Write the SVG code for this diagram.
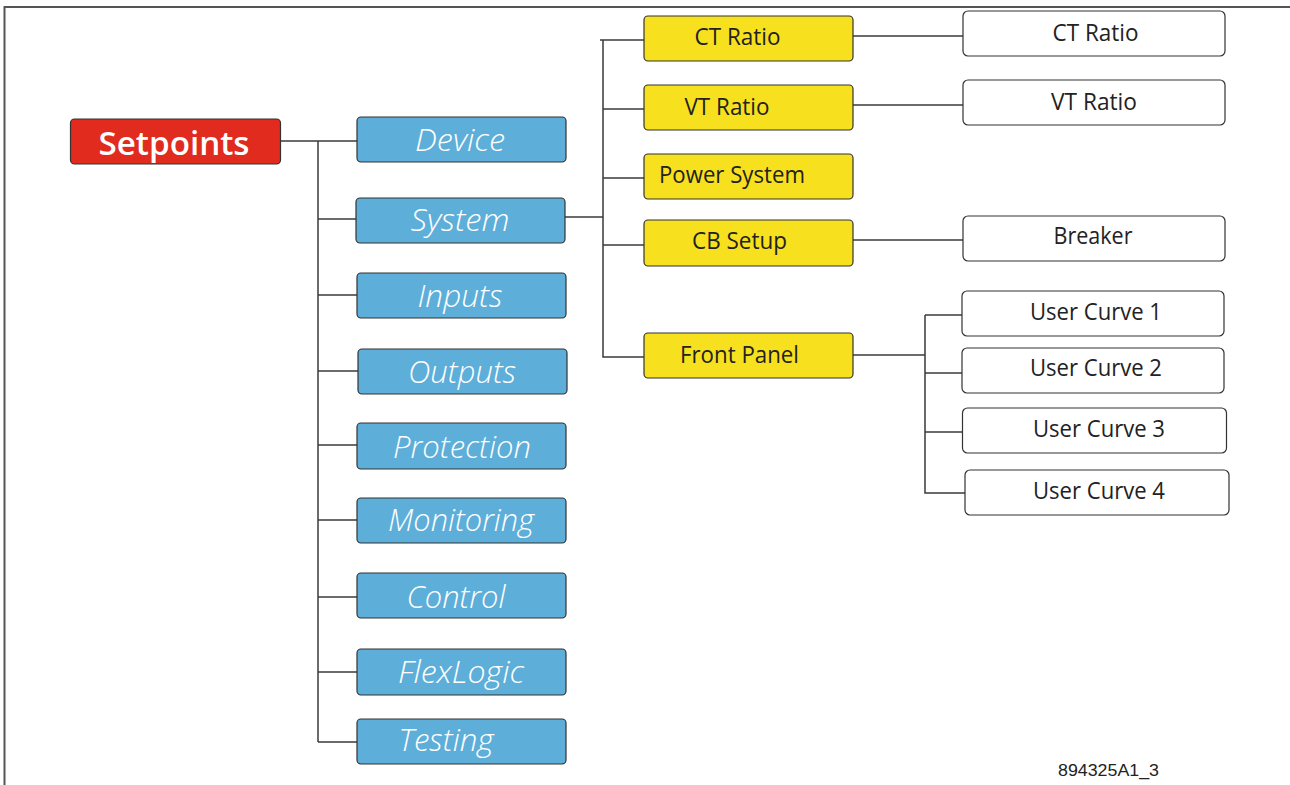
<svg xmlns="http://www.w3.org/2000/svg" width="1290" height="785" viewBox="0 0 1290 785">
<style>
.frame{fill:none;stroke:#555;stroke-width:2}
.con path{fill:none;stroke:#3a3a3a;stroke-width:1.5}
.red{fill:#E02B1E;stroke:#333;stroke-width:1.2}
.blue{fill:#5DAED9;stroke:#333;stroke-width:1.2}
.yel{fill:#F7E11F;stroke:#333;stroke-width:1.2}
.wht{fill:#fff;stroke:#333;stroke-width:1.2}
.tr{font-family:"Open Sans","Liberation Sans",sans-serif;font-weight:600;font-size:33px;fill:#fff}
.tb{font-family:"Open Sans","Liberation Sans",sans-serif;font-style:italic;font-weight:300;font-size:32px;fill:#fff}
.ty{font-family:"Open Sans","Liberation Sans",sans-serif;font-size:23px;fill:#222}
.tw{font-family:"Open Sans","Liberation Sans",sans-serif;font-size:23px;fill:#222}
.tid{font-family:"Liberation Sans",Arial,sans-serif;font-size:16px;fill:#222}
</style>
<path class="frame" d="M4.5,786 V7 H1290"/>
<g class="con">
<path d="M281,141 H357"/>
<path d="M318,141 V742"/>
<path d="M318,219 H356"/>
<path d="M318,295 H357"/>
<path d="M318,371 H358"/>
<path d="M318,445 H357"/>
<path d="M318,520 H357"/>
<path d="M318,597 H357"/>
<path d="M318,672 H357"/>
<path d="M318,742 H357"/>
<path d="M565,217 H603"/>
<path d="M600,40 H644"/>
<path d="M603,40 V357 H644"/>
<path d="M603,109 H644"/>
<path d="M603,178 H644"/>
<path d="M603,245 H644"/>
<path d="M853,36 H963"/>
<path d="M853,105 H963"/>
<path d="M853,240 H963"/>
<path d="M853,355 H925"/>
<path d="M925,315 V493 H965"/>
<path d="M925,315 H962"/>
<path d="M925,373 H962"/>
<path d="M925,432 H962"/>
</g>
<g id="setpoints"><rect class="red" x="70.5" y="119" width="210" height="45" rx="4"/><text class="tr" x="174" y="155" text-anchor="middle" textLength="151" lengthAdjust="spacingAndGlyphs">Setpoints</text></g>
<g id="device"><rect class="blue" x="357" y="117" width="209" height="45" rx="4"/><text class="tb" x="460" y="151" text-anchor="middle" textLength="90" lengthAdjust="spacingAndGlyphs">Device</text></g>
<g id="system"><rect class="blue" x="356" y="198" width="209" height="45" rx="4"/><text class="tb" x="460" y="231" text-anchor="middle" textLength="99" lengthAdjust="spacingAndGlyphs">System</text></g>
<g id="inputs"><rect class="blue" x="357" y="273" width="209" height="45" rx="4"/><text class="tb" x="460" y="307" text-anchor="middle" textLength="85" lengthAdjust="spacingAndGlyphs">Inputs</text></g>
<g id="outputs"><rect class="blue" x="358" y="349" width="209" height="45" rx="4"/><text class="tb" x="462" y="383" text-anchor="middle" textLength="108" lengthAdjust="spacingAndGlyphs">Outputs</text></g>
<g id="protection"><rect class="blue" x="357" y="423" width="209" height="46" rx="4"/><text class="tb" x="462" y="458" text-anchor="middle" textLength="138" lengthAdjust="spacingAndGlyphs">Protection</text></g>
<g id="monitoring"><rect class="blue" x="357" y="498" width="209" height="45" rx="4"/><text class="tb" x="461" y="531" text-anchor="middle" textLength="146" lengthAdjust="spacingAndGlyphs">Monitoring</text></g>
<g id="control"><rect class="blue" x="357" y="573" width="209" height="45" rx="4"/><text class="tb" x="456" y="608" text-anchor="middle" textLength="99" lengthAdjust="spacingAndGlyphs">Control</text></g>
<g id="flexlogic"><rect class="blue" x="357" y="649" width="209" height="46" rx="4"/><text class="tb" x="461" y="683" text-anchor="middle" textLength="126" lengthAdjust="spacingAndGlyphs">FlexLogic</text></g>
<g id="testing"><rect class="blue" x="357" y="719" width="209" height="45" rx="4"/><text class="tb" x="446" y="751" text-anchor="middle" textLength="95" lengthAdjust="spacingAndGlyphs">Testing</text></g>
<g id="ct-ratio-y"><rect class="yel" x="644" y="16" width="209" height="45" rx="4"/><text class="ty" x="737.5" y="45" text-anchor="middle" textLength="86" lengthAdjust="spacingAndGlyphs">CT Ratio</text></g>
<g id="vt-ratio-y"><rect class="yel" x="644" y="85" width="209" height="45" rx="4"/><text class="ty" x="727" y="115" text-anchor="middle" textLength="85" lengthAdjust="spacingAndGlyphs">VT Ratio</text></g>
<g id="power-system"><rect class="yel" x="644" y="154" width="209" height="45" rx="4"/><text class="ty" x="732" y="183" text-anchor="middle" textLength="146" lengthAdjust="spacingAndGlyphs">Power System</text></g>
<g id="cb-setup"><rect class="yel" x="644" y="220" width="209" height="46" rx="4"/><text class="ty" x="739.5" y="249" text-anchor="middle" textLength="95" lengthAdjust="spacingAndGlyphs">CB Setup</text></g>
<g id="front-panel"><rect class="yel" x="644" y="333" width="209" height="45" rx="4"/><text class="ty" x="739.5" y="363" text-anchor="middle" textLength="119" lengthAdjust="spacingAndGlyphs">Front Panel</text></g>
<g id="ct-ratio-w"><rect class="wht" x="963" y="11" width="262" height="45" rx="5"/><text class="tw" x="1095.5" y="41" text-anchor="middle" textLength="86" lengthAdjust="spacingAndGlyphs">CT Ratio</text></g>
<g id="vt-ratio-w"><rect class="wht" x="963" y="80" width="262" height="45" rx="5"/><text class="tw" x="1094" y="109.5" text-anchor="middle" textLength="86" lengthAdjust="spacingAndGlyphs">VT Ratio</text></g>
<g id="breaker"><rect class="wht" x="963" y="216" width="262" height="45" rx="5"/><text class="tw" x="1093" y="243.5" text-anchor="middle" textLength="79" lengthAdjust="spacingAndGlyphs">Breaker</text></g>
<g id="user-curve-1"><rect class="wht" x="962" y="291" width="262" height="45" rx="5"/><text class="tw" x="1096" y="319.5" text-anchor="middle" textLength="132" lengthAdjust="spacingAndGlyphs">User Curve 1</text></g>
<g id="user-curve-2"><rect class="wht" x="962" y="348" width="262" height="45" rx="5"/><text class="tw" x="1096" y="376" text-anchor="middle" textLength="132" lengthAdjust="spacingAndGlyphs">User Curve 2</text></g>
<g id="user-curve-3"><rect class="wht" x="962.5" y="408" width="264" height="45" rx="5"/><text class="tw" x="1099" y="437" text-anchor="middle" textLength="132" lengthAdjust="spacingAndGlyphs">User Curve 3</text></g>
<g id="user-curve-4"><rect class="wht" x="965" y="470" width="264" height="45" rx="5"/><text class="tw" x="1099" y="498.5" text-anchor="middle" textLength="132" lengthAdjust="spacingAndGlyphs">User Curve 4</text></g>
<text class="tid" x="1108.5" y="776" text-anchor="middle" textLength="101" lengthAdjust="spacingAndGlyphs">894325A1_3</text>
</svg>
